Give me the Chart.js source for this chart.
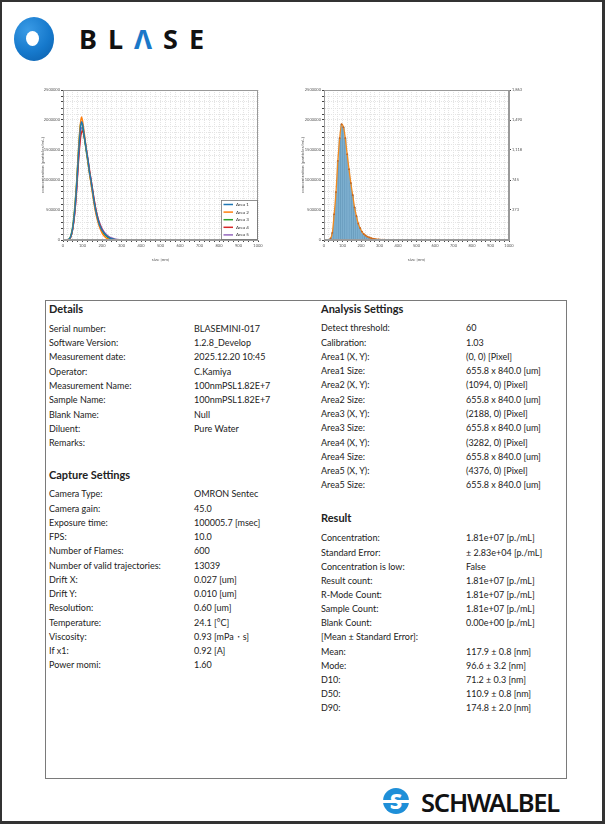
<!DOCTYPE html>
<html>
<head>
<meta charset="utf-8">
<script src="https://cdn.jsdelivr.net/npm/chart.js@4.4.1/dist/chart.umd.min.js"></script>
<style>
  html,body{margin:0;padding:0;background:#fff;}
  body{width:605px;height:824px;position:relative;overflow:hidden;font-family:Lato,"Noto Sans",sans-serif;color:#222;}
  .frame{position:absolute;left:0;top:0;width:605px;height:824px;box-sizing:border-box;border-style:solid;border-color:#333;border-width:2px 3px 3px 2px;pointer-events:none;z-index:10;}
  .abs{position:absolute;}
  .logo-ring{left:14px;top:17px;width:40px;height:44px;border-radius:50%;background:radial-gradient(circle at 35% 30%,#3a9be6 0%,#1679cc 55%,#0b5ca8 100%);}
  .logo-hole{left:26px;top:31px;width:13px;height:15px;border-radius:50%;background:#fff;}
  .blase{left:79px;top:22px;font-family:"Noto Sans",sans-serif;font-weight:700;font-size:27px;letter-spacing:11px;color:#111;line-height:34px;white-space:nowrap;}
  .blase .a{color:#1a78c8;font-weight:700;}
  .box{left:45px;top:300px;width:522px;height:479px;box-sizing:border-box;border:1.5px solid #7a7a7a;}
  .head{font-weight:700;font-size:11px;line-height:14px;white-space:nowrap;}
  .rows{font-size:9px;white-space:nowrap;}
  .rows div{height:14.25px;line-height:14.25px;position:relative;}
  .rows span{position:absolute;top:0;}
  .sch-icon{left:383px;top:788px;width:26px;height:26px;border-radius:50%;background:#1f8fd8;overflow:hidden;}
  .sch-bar{left:379px;top:799.5px;width:34px;height:3px;background:#fff;}
  .sch-s{left:383px;top:786px;width:26px;text-align:center;font-family:"Noto Sans",sans-serif;font-weight:800;font-size:22px;line-height:28px;color:#fff;}
  .sch-text{left:421px;top:785px;font-family:"Noto Sans",sans-serif;font-weight:600;font-size:25.5px;line-height:34px;letter-spacing:-1.2px;color:#111;white-space:nowrap;}
  canvas{position:absolute;}
</style>
</head>
<body>
<div class="frame"></div>
<div class="abs logo-ring"></div>
<div class="abs logo-hole"></div>
<div class="abs blase">BL<span class="a">Λ</span>SE</div>

<canvas id="c1" width="225" height="178" style="left:40px;top:84px;"></canvas>
<canvas id="c2" width="230" height="178" style="left:300px;top:84px;"></canvas>

<div class="abs box"></div>
<div id="tables"></div>

<div class="abs sch-icon"></div>
<div class="abs sch-bar"></div>
<div class="abs sch-s">S</div>
<div class="abs sch-text">SCHWALBEL</div>

<script>
// ---------- chart data ----------
const sizes = [0,10,20,30,40,50,60,70,80,90,95,100,110,120,130,135,140,150,160,170,180,190,200,210,220,230,240,250,260,270,280,290,300,320,1000];
const areaLabels = ["Area 1","Area 2","Area 3","Area 4","Area 5"];
const areaColors = ["#1f77b4","#ff7f0e","#2ca02c","#d62728","#9467bd"];
const area1 = [0,0,0,10000,60000,200000,480000,900000,1450000,1880000,1970000,1930000,1720000,1500000,1290000,1150000,1060000,850000,630000,460000,330000,230000,165000,120000,82000,55000,35000,21000,12000,7000,3000,1000,0,0,0];
const area2 = [0,0,0,8000,55000,200000,500000,950000,1520000,1960000,2050000,1990000,1760000,1500000,1250000,1130000,1020000,800000,590000,420000,290000,190000,120000,70000,38000,18000,7000,2000,0,0,0,0,0,0,0];
const area3 = [0,0,0,12000,70000,230000,540000,980000,1530000,1930000,1950000,1900000,1690000,1460000,1240000,1130000,1030000,830000,620000,450000,320000,220000,150000,100000,65000,40000,24000,13000,6000,2500,1000,0,0,0,0];
const area4 = [0,0,0,9000,50000,180000,430000,830000,1330000,1700000,1790000,1820000,1700000,1510000,1300000,1190000,1080000,880000,670000,490000,350000,250000,175000,120000,80000,52000,32000,19000,10000,5000,2000,500,0,0,0];
const area5 = [0,0,0,10000,55000,190000,450000,860000,1380000,1780000,1870000,1870000,1700000,1490000,1280000,1170000,1070000,870000,660000,490000,360000,265000,195000,140000,100000,72000,50000,34000,22000,14000,8000,4000,1500,0,0];
const areaSeries = [area1, area2, area3, area4, area5];

const binCenters = [5,15,25,35,45,55,65,75,85,95,105,115,125,135,145,155,165,175,185,195,205,215,225,235,245,255,265,275,285,295,305,315,325,335,345,355,365,375,385,395,405,415,425,435,445,455,465,475,485,495,505,515,525,535,545,555,565,575,585,595,605,615,625,635,645,655,665,675,685,695,705,715,725,735,745,755,765,775,785,795,805,815,825,835,845,855,865,875,885,895,905,915,925,935,945,955,965,975,985,995];
const histValues = [0,0,2000,25000,120000,430000,800000,1320000,1700000,1930000,1880000,1700000,1430000,1180000,950000,750000,545000,400000,275000,200000,140000,100000,75000,55000,42000,32000,24000,17000,12000,9000,6500,5000,4000,3000,2200,1600,1200,900,700,500,400,300,200,150,100,80,0,0,0,0,0,0,0,0,0,0,0,0,0,0,0,0,0,0,0,0,0,0,0,0,0,0,0,0,0,0,0,0,0,0,0,0,0,0,0,0,0,0,0,0,0,0,0,0,0,0,0,0,0,0];
const rightTicks = [373,745,1118,1490,1863];
const xMax = 1000, yMax = 2500000, y2Max = 1863;

// ---------- table data ----------
const detailsRows = [["Serial number:","BLASEMINI-017"],["Software Version:","1.2.8_Develop"],["Measurement date:","2025.12.20 10:45"],["Operator:","C.Kamiya"],["Measurement Name:","100nmPSL1.82E+7"],["Sample Name:","100nmPSL1.82E+7"],["Blank Name:","Null"],["Diluent:","Pure Water"],["Remarks:",""]];
const captureRows = [["Camera Type:","OMRON Sentec"],["Camera gain:","45.0"],["Exposure time:","100005.7 [msec]"],["FPS:","10.0"],["Number of Flames:","600"],["Number of valid trajectories:","13039"],["Drift X:","0.027 [um]"],["Drift Y:","0.010 [um]"],["Resolution:","0.60 [um]"],["Temperature:","24.1 [°C]"],["Viscosity:","0.93 [mPa・s]"],["If x1:","0.92 [A]"],["Power momi:","1.60"]];
const analysisRows = [["Detect threshold:","60"],["Calibration:","1.03"],["Area1 (X, Y):","(0, 0) [Pixel]"],["Area1 Size:","655.8 x 840.0 [um]"],["Area2 (X, Y):","(1094, 0) [Pixel]"],["Area2 Size:","655.8 x 840.0 [um]"],["Area3 (X, Y):","(2188, 0) [Pixel]"],["Area3 Size:","655.8 x 840.0 [um]"],["Area4 (X, Y):","(3282, 0) [Pixel]"],["Area4 Size:","655.8 x 840.0 [um]"],["Area5 (X, Y):","(4376, 0) [Pixel]"],["Area5 Size:","655.8 x 840.0 [um]"]];
const resultRows = [["Concentration:","1.81e+07 [p./mL]"],["Standard Error:","± 2.83e+04 [p./mL]"],["Concentration is low:","False"],["Result count:","1.81e+07 [p./mL]"],["R-Mode Count:","1.81e+07 [p./mL]"],["Sample Count:","1.81e+07 [p./mL]"],["Blank Count:","0.00e+00 [p./mL]"],["[Mean ± Standard Error]:",""],["Mean:","117.9 ± 0.8 [nm]"],["Mode:","96.6 ± 3.2 [nm]"],["D10:","71.2 ± 0.3 [nm]"],["D50:","110.9 ± 0.8 [nm]"],["D90:","174.8 ± 2.0 [nm]"]];

// ---------- build tables ----------
const tables = document.getElementById('tables');
function heading(text, left, top){
  const d = document.createElement('div');
  d.className = 'abs head'; d.style.left = left+'px'; d.style.top = top+'px'; d.textContent = text;
  tables.appendChild(d);
}
function rows(list, left, valLeft, top, step){
  const wrap = document.createElement('div');
  wrap.className = 'abs rows'; wrap.style.left = left+'px'; wrap.style.top = top+'px';
  list.forEach(r=>{
    const d = document.createElement('div'); d.style.height = step+'px'; d.style.lineHeight = step+'px';
    const a = document.createElement('span'); a.style.left = '0px'; a.textContent = r[0];
    const b = document.createElement('span'); b.style.left = (valLeft-left)+'px'; b.textContent = r[1];
    d.appendChild(a); d.appendChild(b); wrap.appendChild(d);
  });
  tables.appendChild(wrap);
}
heading('Details', 49, 302);
rows(detailsRows, 49, 194, 321.8, 14.3);
heading('Capture Settings', 49, 468);
rows(captureRows, 49, 194, 487.4, 14.25);
heading('Analysis Settings', 321, 302);
rows(analysisRows, 321, 466, 321.4, 14.27);
heading('Result', 321, 511);
rows(resultRows, 321, 466, 531.4, 14.17);

// ---------- charts ----------
const tickFont = {family:'Lato, sans-serif', size:4};
const titleFont = {family:'Lato, sans-serif', size:4.5};
const gridCol = '#e4e4e4';

const boxPlugin = {
  id:'boxPlugin',
  afterDraw(chart){
    const {ctx, chartArea:a} = chart;
    ctx.save();
    ctx.strokeStyle = '#9a9a9a'; ctx.lineWidth = 1;
    ctx.strokeRect(Math.round(a.left)+0.5, Math.round(a.top)+0.5, Math.round(a.right-a.left)-1, Math.round(a.bottom-a.top)-1);
    ctx.restore();
  }
};
const legendPlugin = {
  id:'legendPlugin',
  afterDraw(chart){
    const {ctx, chartArea:a} = chart;
    const w = 36, h = 39;
    const x = a.right - w - 1, y = a.bottom - h - 1;
    ctx.save();
    ctx.fillStyle = '#fff'; ctx.fillRect(x, y, w, h);
    ctx.strokeStyle = '#777'; ctx.lineWidth = 0.8; ctx.strokeRect(x+0.5, y+0.5, w, h);
    ctx.font = '4.5px Lato, sans-serif'; ctx.textBaseline = 'middle'; ctx.fillStyle = '#333';
    chart.data.datasets.forEach((ds,i)=>{
      const ly = y + 4.5 + i*7.6;
      ctx.strokeStyle = ds.borderColor; ctx.lineWidth = 1.5;
      ctx.beginPath(); ctx.moveTo(x+2.5, ly); ctx.lineTo(x+12, ly); ctx.stroke();
      ctx.fillText(ds.label, x+15, ly);
    });
    ctx.restore();
  }
};

function xScale(h){
  return {
    type:'linear', min:0, max:xMax, offset:false,
    ticks:{stepSize:25, autoSkip:false, maxRotation:0, minRotation:0, font:tickFont, color:'#555', padding:1,
      callback:v=> (v%100===0 ? String(v) : '')},
    grid:{color:gridCol, tickColor:'#444', tickLength:2, offset:false},
    border:{color:'#9a9a9a', dash:[1,1]},
    title:{display:true, text:'size [nm]', font:titleFont, color:'#555', padding:{top:2,bottom:0}},
    afterFit:s=>{s.height = h;}
  };
}
function yScale(w){
  return {
    type:'linear', min:0, max:yMax,
    ticks:{stepSize:100000, autoSkip:false, font:tickFont, color:'#555', padding:1,
      callback:v=> (v%500000===0 ? String(v) : '')},
    grid:{color:gridCol, tickColor:'#444', tickLength:2},
    border:{color:'#9a9a9a', dash:[1,1]},
    title:{display:true, text:'concentration [particles/mL]', font:titleFont, color:'#555', padding:{top:0,bottom:1}},
    afterFit:s=>{s.width = w;}
  };
}

new Chart(document.getElementById('c1'), {
  type:'line',
  data:{datasets: areaSeries.map((arr,i)=>({
    label: areaLabels[i],
    data: sizes.map((s,j)=>({x:s, y:arr[j]})),
    borderColor: areaColors[i], backgroundColor: areaColors[i],
    borderWidth:1.4, pointRadius:0, fill:false, cubicInterpolationMode:'monotone'
  }))},
  options:{
    responsive:false, animation:false,
    layout:{padding:{top:6, right:7, left:0, bottom:0}},
    plugins:{legend:{display:false}, tooltip:{enabled:false}},
    scales:{x:xScale(22), y:yScale(23)}
  },
  plugins:[boxPlugin, legendPlugin]
});

new Chart(document.getElementById('c2'), {
  type:'bar',
  data:{datasets:[
    {type:'line', label:'fit', data: binCenters.map((c,i)=>({x:c, y:histValues[i]})),
     borderColor:'#f28a1f', borderWidth:1.3, pointRadius:0.9, pointBackgroundColor:'#c7651f', pointBorderWidth:0,
     fill:false, order:0, yAxisID:'y', cubicInterpolationMode:'monotone'},
    {type:'bar', label:'hist', data: binCenters.map((c,i)=>({x:c, y:histValues[i]})),
     backgroundColor:'#7cafcf', borderColor:'#5a8fb2', borderWidth:0.4,
     barPercentage:1, categoryPercentage:1, order:1, yAxisID:'y'}
  ]},
  options:{
    responsive:false, animation:false,
    layout:{padding:{top:6, right:0, left:0, bottom:0}},
    plugins:{legend:{display:false}, tooltip:{enabled:false}},
    scales:{
      x:xScale(22),
      y:yScale(24),
      y2:{type:'linear', position:'right', min:0, max:y2Max,
        afterBuildTicks:axis=>{axis.ticks = rightTicks.map(v=>({value:v}));},
        ticks:{font:tickFont, color:'#555', padding:1},
        grid:{drawOnChartArea:false, tickColor:'#444', tickLength:2},
        border:{color:'#9a9a9a'},
        afterFit:s=>{s.width = 21;}
      }
    }
  },
  plugins:[boxPlugin]
});
</script>
</body>
</html>
